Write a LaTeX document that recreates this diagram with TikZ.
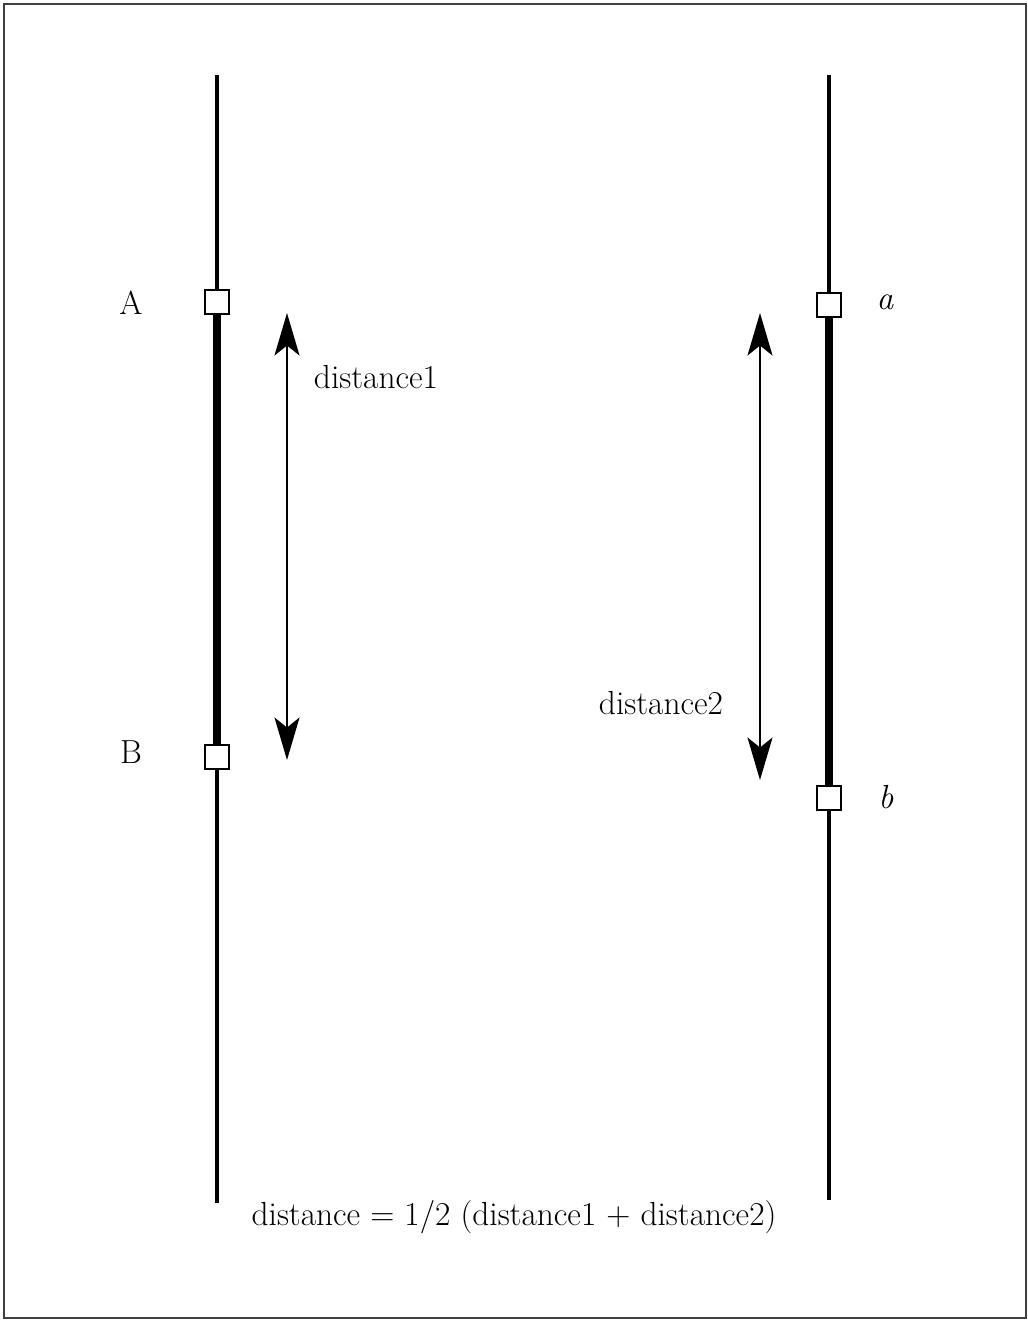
\documentclass[tikz,border=0pt]{standalone}
\usetikzlibrary{arrows.meta}
\begin{document}
\begin{tikzpicture}[x=0.02cm,y=-0.02cm,
  sq/.style={draw,line width=1.3pt,fill=white,minimum size=0.48cm,inner sep=0pt},
  thin/.style={line width=2.1pt},
  thick/.style={line width=5pt},
  dimarrow/.style={line width=1.2pt,{Stealth[length=0.85cm,width=0.5cm,inset=0.2cm]}-{Stealth[length=0.85cm,width=0.5cm,inset=0.2cm]}},
  lbl/.style={font=\fontsize{19}{22}\selectfont,inner sep=0pt}]
\useasboundingbox (0,0) rectangle (1028,1320);
\draw[line width=1.3pt,black!75] (4,4) rectangle (1026,1318);
\coordinate (Ltop) at (217,75);
\coordinate (Lbot) at (217,1203);
\coordinate (Rtop) at (829,75);
\coordinate (Rbot) at (829,1200);
\node[sq] (A) at (217,302) {};
\node[sq] (B) at (217,757) {};
\node[sq] (a) at (829,305) {};
\node[sq] (b) at (829,798) {};
\draw[thin] (Ltop) -- (A.north);
\draw[thick] (A.south) -- (B.north);
\draw[thin] (B.south) -- (Lbot);
\draw[thin] (Rtop) -- (a.north);
\draw[thick] (a.south) -- (b.north);
\draw[thin] (b.south) -- (Rbot);
\node[lbl] (tA) at (131,303) {A};
\node[lbl] (tB) at (131,752) {B};
\node[lbl] (ta) at (885,302) {\itshape a};
\node[lbl] (tb) at (886,797) {\itshape b};
\coordinate (d1t) at (287,313);
\coordinate (d1b) at (287,760);
\coordinate (d2t) at (760,313);
\coordinate (d2b) at (760,780);
\draw[dimarrow] (d1t) -- (d1b);
\draw[dimarrow] (d2t) -- (d2b);
\node[lbl] (l1) at (376,377) {distance1};
\node[lbl] (l2) at (661,703) {distance2};
\node[lbl] (eq) at (514,1217) {distance = 1/2 (distance1 + distance2)};
\end{tikzpicture}
\end{document}
